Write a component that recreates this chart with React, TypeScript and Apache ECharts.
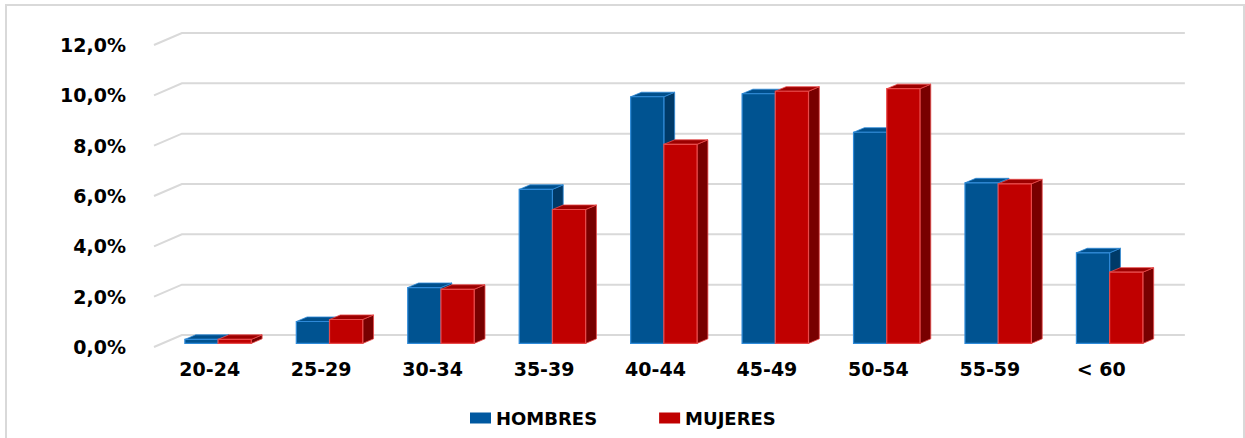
import React, { useEffect, useRef } from 'react';
import * as echarts from 'echarts';

// Age bands and share of staff (%) per sex
const CATEGORIES = ['20-24', '25-29', '30-34', '35-39', '40-44', '45-49', '50-54', '55-59', '< 60'];
const HOMBRES = [0.16, 0.87, 2.22, 6.12, 9.8, 9.92, 8.39, 6.38, 3.6];
const MUJERES = [0.16, 0.95, 2.15, 5.32, 7.91, 10.02, 10.12, 6.34, 2.83];
const Y_TICKS = [0, 2, 4, 6, 8, 10, 12];

const SERIES_NAMES = ['HOMBRES', 'MUJERES'];

// Face colours of the 3D columns: front, top, side, edge
const BLUE = { front: '#005391', top: '#004f8c', side: '#003a68', edge: '#2f8ad8' };
const RED = { front: '#c00000', top: '#9c0000', side: '#780000', edge: '#e84a4a' };

const fmtPct = (v: number) => v.toFixed(1).replace('.', ',') + '%';

// Oblique 3D column: slot 0 sits left of the band's depth-centre, slot 1 right of it
function makeColumnRenderer(slot: number, pal: typeof BLUE) {
  return (params: any, api: any) => {
    const i = api.value(0);
    const v = api.value(1);
    const band = api.size([1, 0])[0];
    const base = api.coord([i, 0]);
    const top = api.coord([i, v]);
    const shiftX = band * 0.075;
    const shiftY = shiftX * 0.43;
    const w = band * 0.298;
    const dX = band * 0.097;
    const dY = dX * 0.42;
    const x0 = base[0] + shiftX + (slot === 0 ? -w : 0);
    const x1 = x0 + w;
    const yB = base[1] - shiftY;
    const yT = top[1] - shiftY;
    return {
      type: 'group',
      children: [
        {
          type: 'polygon',
          shape: { points: [[x1, yB], [x1 + dX, yB - dY], [x1 + dX, yT - dY], [x1, yT]] },
          style: { fill: pal.side, stroke: pal.edge, lineWidth: 0.8 },
        },
        {
          type: 'polygon',
          shape: { points: [[x0, yT], [x1, yT], [x1 + dX, yT - dY], [x0 + dX, yT - dY]] },
          style: { fill: pal.top, stroke: pal.edge, lineWidth: 0.8 },
        },
        {
          type: 'rect',
          shape: { x: x0, y: yT, width: w, height: yB - yT },
          style: { fill: pal.front, stroke: pal.edge, lineWidth: 1.2 },
        },
      ],
    };
  };
}

// Back-wall gridlines with their slanted lead-in from the front plane
function renderWallLine(params: any, api: any) {
  const v = api.value(1);
  const band = api.size([1, 0])[0];
  const cs = params.coordSys;
  const y = api.coord([0, v])[1];
  const dX = band * 0.25;
  const dY = dX * 0.43;
  return {
    type: 'polyline',
    shape: {
      points: [
        [cs.x, y],
        [cs.x + dX, y - dY],
        [cs.x + cs.width + dX, y - dY],
      ],
    },
    style: { fill: 'none', stroke: '#d9d9d9', lineWidth: 2 },
    silent: true,
  };
}

export default function App() {
  const ref = useRef<HTMLDivElement>(null);

  useEffect(() => {
    if (!ref.current) return;
    const chart = echarts.init(ref.current, null, { renderer: 'svg' });
    const labelFont = { fontFamily: 'DejaVu Sans', fontWeight: 'bold' as const, color: '#000' };

    chart.setOption({
      animation: false,
      backgroundColor: '#ffffff',
      graphic: [
        {
          type: 'rect',
          silent: true,
          z: -10,
          shape: { x: 6, y: 5, width: 1238, height: 445 },
          style: { fill: 'none', stroke: '#d9d9d9', lineWidth: 2 },
        },
      ],
      grid: { left: 154, right: 88, top: 45, bottom: 91 },
      legend: {
        data: SERIES_NAMES,
        left: 465,
        top: 404,
        itemWidth: 21,
        itemHeight: 11,
        itemGap: 62,
        icon: 'rect',
        textStyle: { ...labelFont, fontSize: 18 },
      },
      xAxis: {
        type: 'category',
        data: CATEGORIES,
        axisLine: { show: false },
        axisTick: { show: false },
        splitLine: { show: false },
        axisLabel: { ...labelFont, fontSize: 19, margin: 12 },
      },
      yAxis: {
        type: 'value',
        min: 0,
        max: 12,
        interval: 2,
        axisLine: { show: false },
        axisTick: { show: false },
        splitLine: { show: false },
        axisLabel: { ...labelFont, fontSize: 19, margin: 28, formatter: fmtPct },
      },
      series: [
        {
          type: 'custom',
          name: 'wall',
          z: 1,
          silent: true,
          renderItem: renderWallLine,
          data: Y_TICKS.map((t) => [0, t]),
          encode: { x: 0, y: 1 },
        },
        {
          type: 'custom',
          name: SERIES_NAMES[0],
          z: 3,
          itemStyle: { color: '#0058a0' },
          renderItem: makeColumnRenderer(0, BLUE),
          data: HOMBRES.map((v, i) => [i, v]),
          encode: { x: 0, y: 1 },
        },
        {
          type: 'custom',
          name: SERIES_NAMES[1],
          z: 4,
          itemStyle: { color: '#c00000' },
          renderItem: makeColumnRenderer(1, RED),
          data: MUJERES.map((v, i) => [i, v]),
          encode: { x: 0, y: 1 },
        },
      ],
    });

    return () => chart.dispose();
  }, []);

  return (
    <div
      ref={ref}
      style={{ position: 'absolute', left: 0, top: 0, width: 1245, height: 438 }}
    />
  );
}
